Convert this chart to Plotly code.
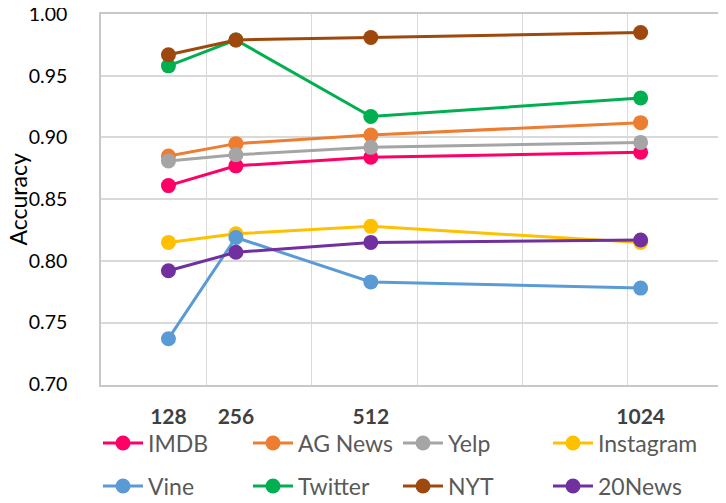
import plotly.graph_objects as go

x_vals = [128, 256, 512, 1024]
tick_labels = ["128", "256", "512", "1024"]
y_ticks = [0.70, 0.75, 0.80, 0.85, 0.90, 0.95, 1.00]
y_title = "Accuracy"

imdb = [0.861, 0.877, 0.884, 0.888]
ag_news = [0.885, 0.895, 0.902, 0.912]
yelp = [0.881, 0.886, 0.892, 0.896]
instagram = [0.815, 0.822, 0.828, 0.815]
vine = [0.737, 0.819, 0.783, 0.778]
twitter = [0.958, 0.979, 0.917, 0.932]
nyt = [0.967, 0.979, 0.981, 0.985]
news20 = [0.792, 0.807, 0.815, 0.817]

series = [
    ("IMDB", imdb, "#FF0066"),
    ("AG News", ag_news, "#ED7D31"),
    ("Yelp", yelp, "#A5A5A5"),
    ("Instagram", instagram, "#FFC000"),
    ("Vine", vine, "#5B9BD5"),
    ("Twitter", twitter, "#00B050"),
    ("NYT", nyt, "#9E480E"),
    ("20News", news20, "#7030A0"),
]

# the page body has an 8px margin, so the figure is sized to fill the rest
W, H = 718, 495
font_family = "Lato, 'Open Sans', sans-serif"

# legend grid: 4 columns x 2 rows (figure-pixel positions of each entry box)
col_left = [90, 240, 390, 540]
row_center = [435, 478]

fig = go.Figure()
legends = {}
for i, (name, ys, color) in enumerate(series):
    lg = "legend" if i == 0 else f"legend{i + 1}"
    fig.add_trace(go.Scatter(
        x=x_vals, y=ys, name=name, mode="lines+markers",
        line=dict(color=color, width=3),
        marker=dict(color=color, size=15),
        legend=lg, showlegend=True,
    ))
    r, c = divmod(i, 4)
    legends[lg] = dict(
        xref="container", yref="container",
        x=col_left[c] / W, y=1 - row_center[r] / H,
        xanchor="left", yanchor="middle",
        orientation="h",
        font=dict(family=font_family, size=23, color="#595959"),
        bgcolor="rgba(0,0,0,0)", itemwidth=40,
    )

fig.update_layout(
    width=W, height=H,
    showlegend=True,
    margin=dict(l=93, r=0, t=6, b=118.4, autoexpand=False),
    plot_bgcolor="white", paper_bgcolor="white",
    font=dict(family=font_family, color="#595959"),
    xaxis=dict(
        range=[0, 1186],
        tickvals=x_vals, ticktext=tick_labels,
        showgrid=False,
        tickfont=dict(family=font_family, size=21, color="#404040", weight="bold"),
        ticks="", ticklabelstandoff=12,
        showline=True, linecolor="#C8C8C8", linewidth=1.5, mirror=True,
        minor=dict(tickvals=[200, 400, 600, 800, 1000], showgrid=True,
                   gridcolor="#D9D9D9", gridwidth=1, ticks=""),
        zeroline=False,
    ),
    yaxis=dict(
        range=[0.6995, 1.0],
        tickvals=y_ticks, tickformat=".2f",
        showgrid=True, gridcolor="#D9D9D9", gridwidth=1.5,
        tickfont=dict(family=font_family, size=19.5, color="#000000"),
        showline=True, linecolor="#C8C8C8", linewidth=1.5,
        ticks="", ticklabelstandoff=28, ticklabeloverflow="allow",
        zeroline=False,
    ),
    annotations=[dict(
        text=y_title, textangle=-90, showarrow=False,
        xref="paper", yref="paper", x=0, y=0.5,
        xanchor="center", yanchor="middle", xshift=-84,
        font=dict(family=font_family, size=23, color="#000000"),
    )],
    **legends,
)

fig.write_html("out.html")
